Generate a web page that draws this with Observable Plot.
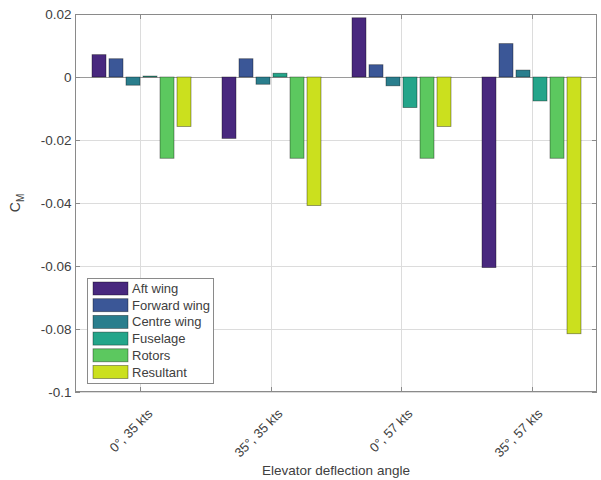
<!DOCTYPE html>
<html>
<head>
<meta charset="utf-8">
<script src="https://cdn.jsdelivr.net/npm/d3@7"></script>
<script src="https://cdn.jsdelivr.net/npm/@observablehq/plot@0.6"></script>
<style>
  html, body { margin: 0; padding: 0; background: white; }
  #chart { width: 601px; height: 480px; }
</style>
</head>
<body>
<div id="chart"></div>
<script>
// ---- data ----
const groups = ["0°, 35 kts", "35°, 35 kts", "0°, 57 kts", "35°, 57 kts"];
const series = ["Aft wing", "Forward wing", "Centre wing", "Fuselage", "Rotors", "Resultant"];
const aftWing     = [0.0071, -0.0195, 0.0188, -0.0605];
const forwardWing = [0.0058, 0.0058, 0.0039, 0.0106];
const centreWing  = [-0.0026, -0.0023, -0.0028, 0.0022];
const fuselage    = [0.0003, 0.0012, -0.0097, -0.0076];
const rotors      = [-0.0258, -0.0258, -0.0258, -0.0258];
const resultant   = [-0.0157, -0.0408, -0.0157, -0.0815];
const colors = ["#48287e", "#3b5797", "#2a7e8d", "#24a58a", "#5cc85f", "#cbe01e"];
const yTicks = [-0.1, -0.08, -0.06, -0.04, -0.02, 0, 0.02];
const xLabel = "Elevator deflection angle";

const seriesValues = [aftWing, forwardWing, centreWing, fuselage, rotors, resultant];
const data = [];
groups.forEach((g, gi) => series.forEach((s, si) => data.push({group: g, series: s, value: seriesValues[si][gi]})));

const W = 601, H = 480;
const mL = 75, mR = 4, mT = 14, mB = 88;
const textColor = "#404040";
const axisColor = "#8a8a8a";
const gridColor = "#dcdcdc";
const font = "'Liberation Sans', Arial, Helvetica, sans-serif";
const fmt = d => d === 0 ? "0" : String(+d.toFixed(2));

const chart = Plot.plot({
  width: W, height: H,
  marginLeft: mL, marginRight: mR, marginTop: mT, marginBottom: mB,
  style: {fontFamily: font, fontSize: "13.5px", color: textColor, background: "white"},
  fx: {domain: groups, padding: 0, label: null},
  x: {domain: series, paddingInner: 0.2, paddingOuter: 0.85, axis: null},
  y: {domain: [-0.1, 0.02], label: null},
  color: {domain: series, range: colors},
  marks: [
    Plot.gridY(yTicks, {stroke: gridColor, strokeOpacity: 1}),
    Plot.ruleY([0], {stroke: "#9a9a9a", strokeWidth: 1}),
    Plot.barY(data, {fx: "group", x: "series", y: "value", fill: "series", stroke: "#000", strokeOpacity: 0.45, strokeWidth: 0.8}),
    Plot.axisY(yTicks, {anchor: "left", tickFormat: fmt, tickSize: 0, tickPadding: 5, fill: textColor, fontSize: 13.5, label: null}),
    Plot.axisFx({anchor: "bottom", tickSize: 0, tickPadding: 19, tickRotate: -45, dx: 9, fill: textColor, fontSize: 13, label: null})
  ]
});

const svg = d3.select(chart);
const x0 = mL, x1 = W - mR, y0 = mT, y1 = H - mB;
// band centres of the fx scale (padding 0 over the plot width) and y positions of ticks
const gx = d3.scaleBand().domain(groups).range([x0, x1]).padding(0);
const gy = d3.scaleLinear().domain([-0.1, 0.02]).range([y1, y0]);
const centre = g => Math.round(gx(g) + gx.bandwidth() / 2) + 0.5;
const yPos = t => Math.round(gy(t)) + 0.5;

// vertical grid lines at group centres (behind bars)
const under = svg.insert("g", "g").attr("stroke", gridColor).attr("stroke-width", 1);
groups.forEach(g => {
  const cx = centre(g);
  under.append("line").attr("x1", cx).attr("x2", cx).attr("y1", y0).attr("y2", y1);
});

// frame + inward ticks
const ax = svg.append("g").attr("stroke", axisColor).attr("stroke-width", 1).attr("fill", "none");
ax.append("rect").attr("x", x0 + 0.5).attr("y", y0 + 0.5).attr("width", x1 - x0 - 1).attr("height", y1 - y0 - 1);
yTicks.forEach(t => {
  const yy = yPos(t);
  ax.append("line").attr("x1", x0).attr("x2", x0 + 5).attr("y1", yy).attr("y2", yy);
  ax.append("line").attr("x1", x1 - 5).attr("x2", x1).attr("y1", yy).attr("y2", yy);
});
groups.forEach(g => {
  const cx = centre(g);
  ax.append("line").attr("x1", cx).attr("x2", cx).attr("y1", y1 - 5).attr("y2", y1);
  ax.append("line").attr("x1", cx).attr("x2", cx).attr("y1", y0).attr("y2", y0 + 5);
});

// y label C_M
const yl = svg.append("text")
  .attr("transform", `translate(20,${(y0 + y1) / 2}) rotate(-90)`)
  .attr("text-anchor", "middle")
  .attr("fill", textColor)
  .attr("font-family", font)
  .attr("font-size", 14);
yl.append("tspan").text("C");
yl.append("tspan").attr("font-size", 10).attr("dy", 4).text("M");

// x label
svg.append("text")
  .attr("x", (x0 + x1) / 2).attr("y", 475)
  .attr("text-anchor", "middle")
  .attr("fill", textColor)
  .attr("font-family", font)
  .attr("font-size", 13.5)
  .text(xLabel);

// legend
const lg = svg.append("g").attr("transform", "translate(87,278)");
lg.append("rect").attr("x", 0.5).attr("y", 0.5).attr("width", 126).attr("height", 105)
  .attr("fill", "white").attr("stroke", axisColor).attr("stroke-width", 1);
series.forEach((s, i) => {
  const cy = 10.5 + i * 16.7;
  lg.append("rect").attr("x", 6).attr("y", cy - 6.5).attr("width", 35).attr("height", 13)
    .attr("fill", colors[i]).attr("stroke", "#000").attr("stroke-opacity", 0.45).attr("stroke-width", 0.8);
  lg.append("text").attr("x", 45).attr("y", cy).attr("dy", "0.35em")
    .attr("text-anchor", "start")
    .attr("fill", textColor).attr("font-family", font).attr("font-size", 13).text(s);
});

document.getElementById("chart").appendChild(chart);
</script>
</body>
</html>
